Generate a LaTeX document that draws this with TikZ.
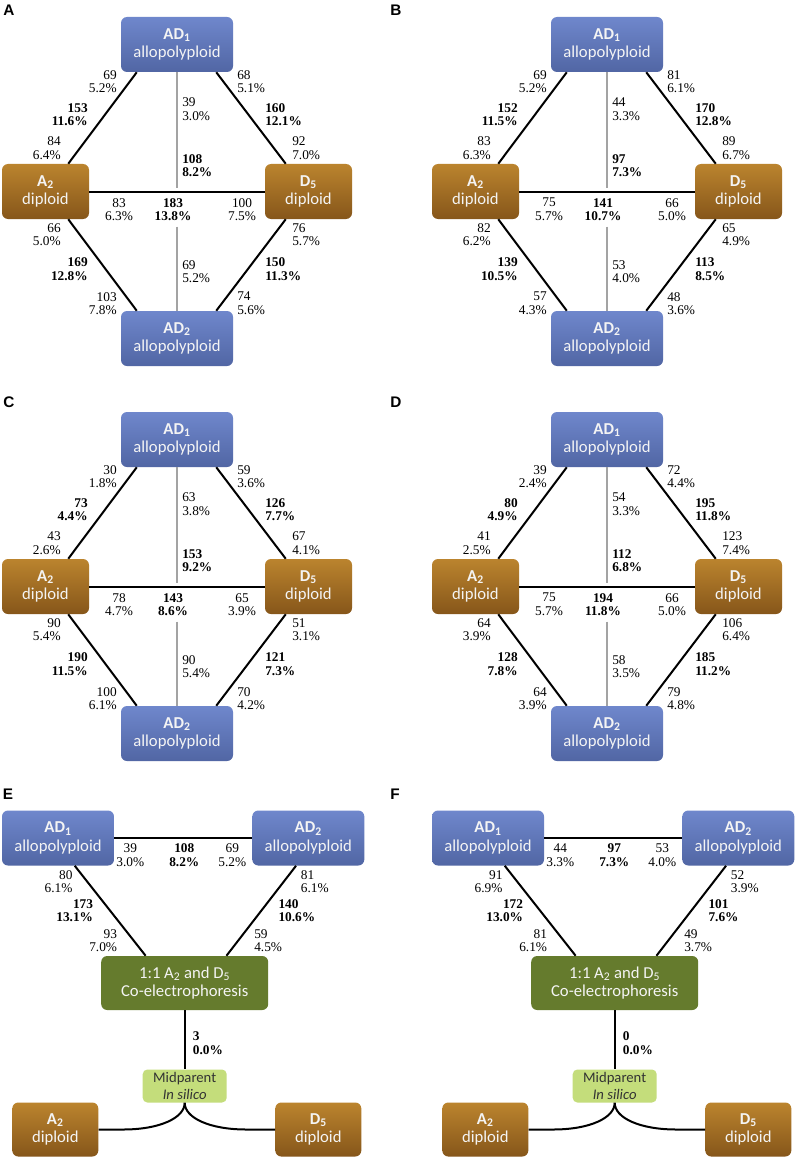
\documentclass[tikz,border=0pt]{standalone}
\usepackage{fontspec}
\setmainfont{Liberation Serif}
\newfontfamily\boxfont{Carlito}
\newfontfamily\letfont{Liberation Sans}
\usetikzlibrary{calc}
\definecolor{bluetop}{HTML}{6F87CC}
\definecolor{bluebot}{HTML}{5166A4}
\definecolor{browntop}{HTML}{BB842E}
\definecolor{brownbot}{HTML}{86561A}
\definecolor{greenfill}{HTML}{657B2D}
\definecolor{lightgreen}{HTML}{C4DD7B}
\definecolor{greyline}{HTML}{A3A3A3}
\definecolor{boxtext}{HTML}{F4F4F4}
\tikzset{
 box/.style={rounded corners=4.5pt, inner sep=0pt, align=center, text=boxtext,
   font=\boxfont\fontsize{12.5}{14}\selectfont},
 bluebox/.style={box, top color=bluetop, bottom color=bluebot, minimum width=84pt, minimum height=41.25pt},
 brownbox/.style={box, top color=browntop, bottom color=brownbot, minimum width=65.25pt, minimum height=41.25pt},
 greenbox/.style={box, fill=greenfill, minimum width=125.25pt, minimum height=40.5pt},
 midbox/.style={box, rounded corners=3.5pt, fill=lightgreen, text=black!80, minimum width=63pt, minimum height=24.75pt,
   font=\boxfont\fontsize{11}{12.5}\selectfont},
 conn/.style={line width=1.5pt, black},
 greyconn/.style={line width=1.4pt, greyline},
 num/.style={inner sep=0pt, font=\fontsize{10}{10.2}\selectfont},
 numb/.style={inner sep=0pt, font=\fontsize{10}{10.2}\selectfont\bfseries},
 lnum/.style={num, anchor=east, align=right},
 rnum/.style={num, anchor=west, align=left},
 cnum/.style={num, align=center},
 lnumb/.style={numb, anchor=east, align=right},
 rnumb/.style={numb, anchor=west, align=left},
 cnumb/.style={numb, align=center},
 panel/.style={font=\letfont\bfseries\fontsize{11.5}{12}\selectfont, inner sep=0pt},
}
\newcommand\diaboxes{%
 \node[bluebox] (\pfx AD1) at (177,44.5) {\textbf{AD\textsubscript{1}}\\allopolyploid};
 \node[brownbox] (\pfx A2) at (45.5,191.5) {\textbf{A\textsubscript{2}}\\diploid};
 \node[brownbox] (\pfx D5) at (308.5,191.5) {\textbf{D\textsubscript{5}}\\diploid};
 \node[bluebox] (\pfx AD2) at (177,338.5) {\textbf{AD\textsubscript{2}}\\allopolyploid};
 \coordinate (\pfx gt) at (177,187.7);
 \coordinate (\pfx gb) at (177,226.7);
 \draw[conn] ($(\pfx AD1.south west)+(16,0)$) -- ($(\pfx A2.north east)+(-21,0)$);
 \draw[conn] ($(\pfx AD1.south east)+(-17,0)$) -- ($(\pfx D5.north west)+(21,0)$);
 \draw[conn] (\pfx A2.east) -- (\pfx D5.west);
 \draw[greyconn] (\pfx AD1.south) -- (\pfx gt);
 \draw[greyconn] (\pfx gb) -- (\pfx AD2.north);
 \draw[conn] ($(\pfx A2.south east)+(-21,0)$) -- ($(\pfx AD2.north west)+(16,0)$);
 \draw[conn] ($(\pfx D5.south west)+(21,0)$) -- ($(\pfx AD2.north east)+(-17,0)$);
}
\newcommand\diaupper[9]{%
 \node[lnum] (\pfx n1) at (117,81.5) {#1};
 \node[lnumb] (\pfx n2) at (88,114.5) {#2};
 \node[lnum] (\pfx n3) at (61,148) {#3};
 \node[rnum] (\pfx n4) at (237,81.5) {#4};
 \node[rnumb] (\pfx n5) at (265,114.5) {#5};
 \node[rnum] (\pfx n6) at (292,148) {#6};
 \node[rnum] (\pfx n7) at (182,109) {#7};
 \node[rnumb] (\pfx n8) at (182,165.5) {#8};
 \node[cnum] (\pfx n9) at (119,209.5) {#9};
}
\newcommand\dialower[9]{%
 \node[cnumb] (\pfx m1) at (173,209.5) {#1};
 \node[cnum] (\pfx m2) at (242,209.5) {#2};
 \node[lnum] (\pfx m3) at (61,234.5) {#3};
 \node[lnumb] (\pfx m4) at (88,269) {#4};
 \node[lnum] (\pfx m5) at (117,303.5) {#5};
 \node[rnum] (\pfx m6) at (292,234.5) {#6};
 \node[rnumb] (\pfx m7) at (265,269) {#7};
 \node[rnum] (\pfx m8) at (237,303.5) {#8};
 \node[rnum] (\pfx m9) at (182,271.5) {#9};
}
\newcommand\triboxes{%
 \node[bluebox] (\pfx AD1) at (58,838) {\textbf{AD\textsubscript{1}}\\allopolyploid};
 \node[bluebox] (\pfx AD2) at (308.3,838) {\textbf{AD\textsubscript{2}}\\allopolyploid};
 \node[greenbox] (\pfx co) at (184.7,983) {1:1 A\textsubscript{2} and D\textsubscript{5}\\Co-electrophoresis};
 \node[midbox] (\pfx mid) at (184.7,1086) {Midparent\\\textit{In silico}};
 \node[brownbox, minimum width=64.5pt, minimum height=40.5pt] (\pfx A2) at (55.3,1129.5) {\textbf{A\textsubscript{2}}\\diploid};
 \node[brownbox, minimum width=64.5pt, minimum height=40.5pt] (\pfx D5) at (318.3,1129.5) {\textbf{D\textsubscript{5}}\\diploid};
 \coordinate (\pfx jl) at (123,1129.5);
 \coordinate (\pfx jr) at (246.4,1129.5);
 \draw[conn] (\pfx AD1.east) -- (\pfx AD2.west);
 \draw[conn] ($(\pfx AD1.south west)+(73,0)$) -- ($(\pfx co.north west)+(44.7,0)$);
 \draw[conn] ($(\pfx AD2.south west)+(44,0)$) -- ($(\pfx co.north east)+(-42,0)$);
 \draw[conn] (\pfx co.south) -- (\pfx mid.north);
 \draw[conn] (\pfx mid.south) .. controls +(0,15) and +(37,0) .. (\pfx jl) -- (\pfx A2.east);
 \draw[conn] (\pfx mid.south) .. controls +(0,15) and +(-37,0) .. (\pfx jr) -- (\pfx D5.west);
}
\newcommand\trilabels[9]{%
 \node[cnum] (\pfx t1) at (130.3,855) {#1};
 \node[cnumb] (\pfx t2) at (184.3,855) {#2};
 \node[cnum] (\pfx t3) at (232.3,855) {#3};
 \node[lnum] (\pfx t4) at (72.7,881.5) {#4};
 \node[lnumb] (\pfx t5) at (93.3,910.5) {#5};
 \node[lnum] (\pfx t6) at (117.3,940.8) {#6};
 \node[rnum] (\pfx t7) at (300.7,881.5) {#7};
 \node[rnumb] (\pfx t8) at (278.3,910.5) {#8};
 \node[rnum] (\pfx t9) at (254,940.8) {#9};
}
\begin{document}
\begin{tikzpicture}[x=0.75pt,y=-0.75pt]
\fill[white] (0,0) rectangle (796,1159);
\useasboundingbox (0,0) rectangle (796,1159);
% panel letters
\node[panel] (labA) at (9,10) {A};
\node[panel] (labB) at (396,10) {B};
\node[panel] (labC) at (9,402) {C};
\node[panel] (labD) at (396,402) {D};
\node[panel] (labE) at (8,794) {E};
\node[panel] (labF) at (395,794) {F};
% A
\begin{scope}
\def\pfx{a}
\diaboxes
\diaupper{69\\5.2\%}{153\\11.6\%}{84\\6.4\%}{68\\5.1\%}{160\\12.1\%}{92\\7.0\%}{39\\3.0\%}{108\\8.2\%}{83\\6.3\%}
\dialower{183\\13.8\%}{100\\7.5\%}{66\\5.0\%}{169\\12.8\%}{103\\7.8\%}{76\\5.7\%}{150\\11.3\%}{74\\5.6\%}{69\\5.2\%}
\end{scope}
% B
\begin{scope}[shift={(430,0)}]
\def\pfx{b}
\diaboxes
\diaupper{69\\5.2\%}{152\\11.5\%}{83\\6.3\%}{81\\6.1\%}{170\\12.8\%}{89\\6.7\%}{44\\3.3\%}{97\\7.3\%}{75\\5.7\%}
\dialower{141\\10.7\%}{66\\5.0\%}{82\\6.2\%}{139\\10.5\%}{57\\4.3\%}{65\\4.9\%}{113\\8.5\%}{48\\3.6\%}{53\\4.0\%}
\end{scope}
% C
\begin{scope}[shift={(0,395)}]
\def\pfx{c}
\diaboxes
\diaupper{30\\1.8\%}{73\\4.4\%}{43\\2.6\%}{59\\3.6\%}{126\\7.7\%}{67\\4.1\%}{63\\3.8\%}{153\\9.2\%}{78\\4.7\%}
\dialower{143\\8.6\%}{65\\3.9\%}{90\\5.4\%}{190\\11.5\%}{100\\6.1\%}{51\\3.1\%}{121\\7.3\%}{70\\4.2\%}{90\\5.4\%}
\end{scope}
% D
\begin{scope}[shift={(430,395)}]
\def\pfx{d}
\diaboxes
\diaupper{39\\2.4\%}{80\\4.9\%}{41\\2.5\%}{72\\4.4\%}{195\\11.8\%}{123\\7.4\%}{54\\3.3\%}{112\\6.8\%}{75\\5.7\%}
\dialower{194\\11.8\%}{66\\5.0\%}{64\\3.9\%}{128\\7.8\%}{64\\3.9\%}{106\\6.4\%}{185\\11.2\%}{79\\4.8\%}{58\\3.5\%}
\end{scope}
% E
\begin{scope}
\def\pfx{e}
\triboxes
\trilabels{39\\3.0\%}{108\\8.2\%}{69\\5.2\%}{80\\6.1\%}{173\\13.1\%}{93\\7.0\%}{81\\6.1\%}{140\\10.6\%}{59\\4.5\%}
\node[rnumb] (et10) at (192.7,1043) {3\\0.0\%};
\end{scope}
% F
\begin{scope}[shift={(430,0)}]
\def\pfx{f}
\triboxes
\trilabels{44\\3.3\%}{97\\7.3\%}{53\\4.0\%}{91\\6.9\%}{172\\13.0\%}{81\\6.1\%}{52\\3.9\%}{101\\7.6\%}{49\\3.7\%}
\node[rnumb] (ft10) at (192.7,1043) {0\\0.0\%};
\end{scope}
\end{tikzpicture}
\end{document}
